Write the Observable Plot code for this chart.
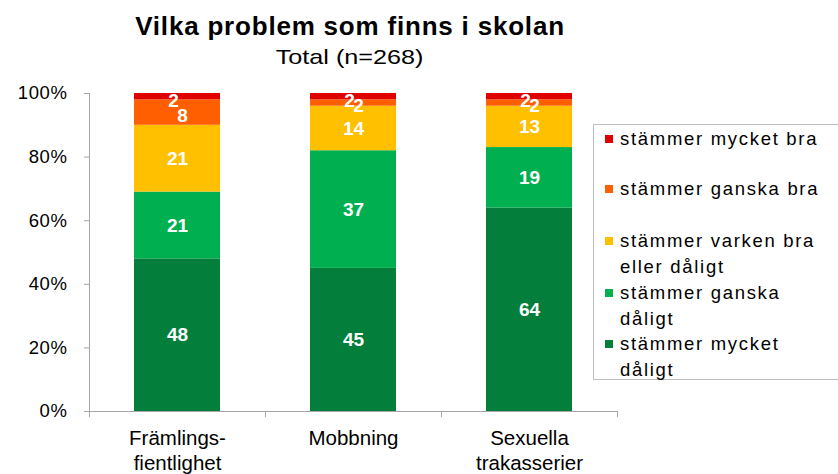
<!DOCTYPE html>
<html>
<head>
<meta charset="utf-8">
<script src="https://cdn.jsdelivr.net/npm/d3@7"></script>
<script src="https://cdn.jsdelivr.net/npm/@observablehq/plot@0.6"></script>
<style>
  html, body { margin: 0; padding: 0; background: #fff; }
  #wrap { position: relative; width: 838px; height: 474px; overflow: hidden; font-family: "Liberation Sans", Arial, sans-serif; }
  #title { position: absolute; left: 0; top: 0; width: 700px; text-align: center; color: #000; }
  #title .t1 { font-weight: bold; font-size: 26px; letter-spacing: 0.8px; line-height: 30px; margin-top: 11px; }
  #title .t2 { font-size: 21px; line-height: 26px; margin-top: 3px; display: inline-block; transform: scaleX(1.2); transform-origin: center; }
  #chart { position: absolute; left: 0; top: 74px; }
  #chart g[aria-label="category labels"] text { letter-spacing: 1.6px; }
  #chart g[aria-label="y-axis tick label"] text { letter-spacing: 0.6px; }
  #legend { position: absolute; left: 593px; top: 124px; width: 300px; height: 256px; border: 1px solid #bfbfbf; box-sizing: border-box; background: #fff; }
  .item { position: absolute; left: 11px; font-size: 18.5px; letter-spacing: 1.7px; line-height: 25.5px; color: #000; white-space: pre; }
  .sw { position: absolute; left: 0; top: 9px; width: 8px; height: 8px; }
  .lbl { position: absolute; left: 15px; top: 0; }
</style>
</head>
<body>
<div id="wrap">
  <div id="title">
    <div class="t1">Vilka problem som finns i skolan</div>
    <div class="t2">Total (n=268)</div>
  </div>
  <div id="chart"></div>
  <div id="legend"></div>
</div>
<script>
// ---- data ----
const categories = ["Främlings-\nfientlighet", "Mobbning", "Sexuella\ntrakasserier"];
const series = [
  "stämmer mycket dåligt",
  "stämmer ganska dåligt",
  "stämmer varken bra eller dåligt",
  "stämmer ganska bra",
  "stämmer mycket bra"
];
const seriesColors = ["#037f3b", "#00b050", "#ffc000", "#ff5f00", "#df0000"];
const framlingsValues = [48, 21, 21, 8, 2];
const mobbningValues = [45, 37, 14, 2, 2];
const sexuellaValues = [64, 19, 13, 2, 2];
const yTicks = [0, 20, 40, 60, 80, 100];
// legend labels in series order (with line breaks as in the legend)
const legendLabels = [
  "stämmer mycket\ndåligt",
  "stämmer ganska\ndåligt",
  "stämmer varken bra\neller dåligt",
  "stämmer ganska bra",
  "stämmer mycket bra"
];
const legendOrder = [4, 3, 2, 1, 0];

const valuesByCategory = [framlingsValues, mobbningValues, sexuellaValues];
const rows = categories.flatMap((c, i) =>
  series.map((s, j) => ({category: c, series: s, value: valuesByCategory[i][j]}))
);

const step = 176;
const textBase = {x: "category", y: "value", z: "series", fill: "white", fontWeight: "bold", fontSize: 19, fontFamily: "Liberation Sans, Arial, sans-serif"};

const chart = Plot.plot({
  width: 838,
  height: 400,
  marginLeft: 89,
  marginRight: 221,
  marginTop: 19,
  marginBottom: 63,
  style: {font: "17px 'Liberation Sans', Arial, sans-serif", color: "#000", background: "transparent"},
  x: {domain: categories, paddingInner: 0.51, paddingOuter: 0.255, axis: null},
  y: {domain: [0, 100], axis: null},
  color: {domain: series, range: seriesColors},
  marks: [
    Plot.barY(rows, {x: "category", y: "value", fill: "series"}),
    Plot.text(rows, Plot.stackY({...textBase, text: d => (d.series === series[4] || d.series === series[3]) ? "" : String(d.value)})),
    Plot.text(rows, Plot.stackY({...textBase, text: d => d.series === series[3] ? String(d.value) : "", dx: 5, dy: 3})),
    Plot.text(rows, Plot.stackY({...textBase, text: d => d.series === series[4] ? String(d.value) : "", dx: -4, dy: 4})),
    Plot.ruleY([0], {stroke: "#a6a6a6"}),
    Plot.frame({anchor: "left", stroke: "#a6a6a6"}),
    Plot.axisY({ticks: yTicks, tickFormat: d => d + "%", tickSize: 5, tickPadding: 17, stroke: "#a6a6a6", fill: "#000", fontSize: 18.5, label: null}),
    Plot.axisX({tickSize: 6, tickPadding: 0, tickFormat: () => "", stroke: "#a6a6a6", dx: -step / 2, label: null}),
    Plot.axisX([categories[categories.length - 1]], {tickSize: 6, tickPadding: 0, tickFormat: () => "", stroke: "#a6a6a6", dx: step / 2, label: null}),
    Plot.text(categories, {x: d => d, frameAnchor: "bottom", lineAnchor: "top", dy: 16, lineHeight: 1.22, fontSize: 20.5, fill: "#000", ariaLabel: "category labels"})
  ]
});
document.getElementById("chart").appendChild(chart);

// legend
const legend = document.getElementById("legend");
const itemTops = [1, 51, 103, 155, 206];
legendOrder.forEach((si, k) => {
  const item = document.createElement("div");
  item.className = "item";
  item.style.top = itemTops[k] + "px";
  const sw = document.createElement("div");
  sw.className = "sw";
  sw.style.background = seriesColors[si];
  const lbl = document.createElement("div");
  lbl.className = "lbl";
  lbl.textContent = legendLabels[si];
  item.appendChild(sw);
  item.appendChild(lbl);
  legend.appendChild(item);
});
</script>
</body>
</html>
